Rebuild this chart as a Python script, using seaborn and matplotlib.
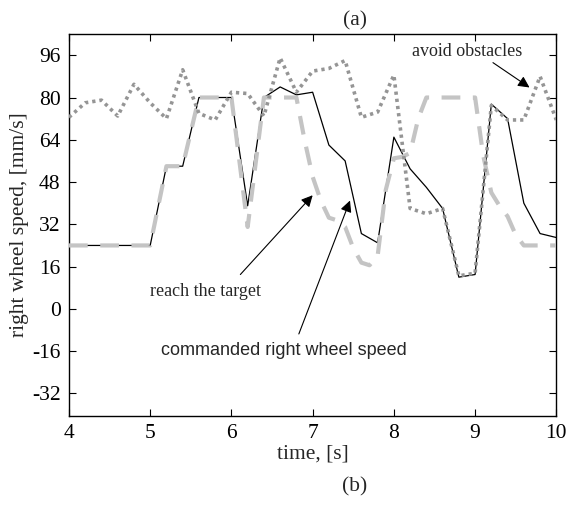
import numpy as np
import pandas as pd
import matplotlib
matplotlib.use("Agg")
import matplotlib.pyplot as plt
import seaborn as sns

# ---- data ----
time = [4.0, 4.2, 4.4, 4.6, 4.8, 5.0, 5.2, 5.4, 5.6, 5.8, 6.0, 6.2, 6.4, 6.6, 6.8,
        7.0, 7.2, 7.4, 7.6, 7.8, 8.0, 8.2, 8.4, 8.6, 8.8, 9.0, 9.2, 9.4, 9.6, 9.8, 10.0]
actual_speed = [24, 24, 24, 24, 24, 24, 54, 54, 80, 80, 80, 39, 80, 84, 81,
                82, 62, 56, 28.5, 25, 65, 53, 46, 38, 12, 13, 77.5, 72, 40, 28.5, 27]
avoid_obstacles = [72.5, 78, 79, 73, 85, 78, 72, 90.5, 74, 71.5, 82, 81.5, 73, 95, 82,
                   90, 91, 94, 72.5, 74.5, 88.5, 38, 36, 38, 12.5, 13.5, 77, 71.5, 71.5, 88, 71.5]

target_time = [4.0, 5.0, 5.2, 5.4, 5.6, 6.0, 6.2, 6.4, 6.8, 6.9, 7.0, 7.1, 7.2, 7.3, 7.4,
               7.5, 7.6, 7.7, 7.8, 7.9, 8.0, 8.1, 8.2, 8.3, 8.4, 9.0, 9.1, 9.2, 9.3, 9.4,
               9.5, 9.6, 10.0]
reach_target = [24, 24, 54, 54, 80, 80, 31, 80, 80, 64, 50, 41, 34.5, 33.5, 31,
                23, 17.5, 16.5, 20, 45, 57, 57.5, 59, 72, 80, 80, 58, 44, 39, 35,
                28, 24, 24]

yticks = [-32, -16, 0, 16, 32, 48, 64, 80, 96]
xticks = [4, 5, 6, 7, 8, 9, 10]

df = pd.DataFrame({"time": time, "actual": actual_speed, "avoid": avoid_obstacles})
df_target = pd.DataFrame({"time": target_time, "target": reach_target})

sns.set_theme(style="ticks")
plt.rcParams["font.family"] = ["Liberation Serif", "DejaVu Serif"]

fig = plt.figure(figsize=(5.7, 5.09), dpi=100)
ax = fig.add_axes([0.121, 0.183, 0.855, 0.750])

sns.lineplot(data=df, x="time", y="actual", ax=ax, color="black", linewidth=0.9, zorder=2)
sns.lineplot(data=df_target, x="time", y="target", ax=ax, color="#c4c4c4", linewidth=3.0, zorder=3)
sns.lineplot(data=df, x="time", y="avoid", ax=ax, color="#959595", linewidth=2.6, zorder=4)
ax.lines[1].set_dashes((4.5, 3.0))
ax.lines[2].set_dashes((0.9, 1.1))
ax.lines[2].set_dash_capstyle("butt")

ax.set_xlim(4, 10)
ax.set_ylim(-40.5, 104)
ax.set_xticks(xticks)
ax.set_yticks(yticks)
ax.set_xticklabels([str(t) for t in xticks], fontsize=15.5)
ax.set_yticklabels([str(t) for t in yticks], fontsize=15.5)
ax.tick_params(direction="in", length=5, width=0.8, top=True, right=True,
               labeltop=False, labelright=False, colors="black", pad=6)
for s in ax.spines.values():
    s.set_linewidth(1.0)
    s.set_color("black")

ax.set_xlabel("time, [s]", fontsize=15.5, labelpad=1)
ax.set_ylabel("right wheel speed, [mm/s]", fontsize=15.5, labelpad=2)

fig.text(0.623, 0.960, "(a)", fontsize=15.5, ha="center", va="center")
fig.text(0.623, 0.043, "(b)", fontsize=15.5, ha="center", va="center")

arrow = dict(arrowstyle="-|>", color="black", lw=0.8, mutation_scale=17, shrinkA=0, shrinkB=0)

ax.text(8.9, 97.5, "avoid obstacles", fontsize=13, ha="center", va="center")
ax.annotate("", xy=(9.67, 83.8), xytext=(9.22, 93.2), arrowprops=arrow)

ax.text(5.68, 6.5, "reach the target", fontsize=13, ha="center", va="center")
ax.annotate("", xy=(7.0, 43), xytext=(6.11, 13), arrowprops=arrow)

ax.text(6.65, -15.8, "commanded right wheel speed", fontsize=13, ha="center", va="center",
        family=["Liberation Sans", "DejaVu Sans"])
ax.annotate("", xy=(7.46, 41), xytext=(6.83, -9.5), arrowprops=arrow)

fig.savefig("out.png", dpi=100, facecolor="white")
